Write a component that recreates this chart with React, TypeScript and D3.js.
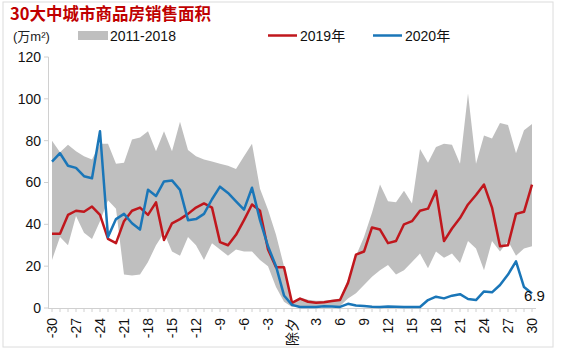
import React from "react";
import * as d3 from "d3";

const categories: string[] = [
  ...d3.range(-30, 0).map(String),
  "除夕",
  ...d3.range(1, 31).map(String),
];

const bandUpper: number[] = [
  80, 74.5, 78, 75, 72.5, 71, 78.5, 78.5, 69, 69.5, 80.5, 81.5, 84.5, 75, 84.5,
  75, 89, 75.5, 72.5, 71, 70, 69, 68, 66.5, 72.5, 78.5, 57, 47, 35, 20,
  3,
  5, 4, 3.5, 3.5, 4, 4.5, 13.5, 25, 34, 45.5, 59, 51, 50.5, 56, 50,
  76, 69.5, 77, 78.5, 78, 69, 102.5, 69, 82.5, 81, 88.5, 87.5, 74, 85, 88,
];

const bandLower: number[] = [
  23, 34, 30, 44, 36, 33, 41.5, 51.5, 47.5, 16, 15.5, 16, 22, 30, 36,
  27, 25, 34, 30, 23, 31, 28, 25, 28, 27, 27, 23, 20, 10, 3,
  0.5,
  1, 1, 1, 1, 1, 1, 4.5, 7, 11, 15, 18, 20.5, 16, 18, 22,
  26, 19, 27, 24, 26, 21.5, 32, 28.5, 18, 32, 27, 32, 25, 28.5, 29.5,
];

const series2019: number[] = [
  35.5, 35.5, 44.5, 46.5, 46, 48.5, 44.5, 33, 31, 41.5, 46.5, 48, 44.5, 50.5, 32.5,
  40.5, 42.5, 45, 48, 50, 48, 31.5, 30, 35, 42, 49.5, 46.5, 28, 19.5, 19.5,
  2.5,
  4.5, 3, 2.5, 2.8, 3.3, 3.8, 12, 25.5, 27, 38.5, 37.5, 31, 32, 40, 41.5,
  46.5, 47.5, 56, 32, 38, 43, 49.5, 54, 59, 48, 29.5, 30, 45, 46, 59,
];

const series2020: number[] = [
  70, 74, 68, 67, 63, 62, 84.5, 34, 42.5, 45, 40.5, 37.5, 56.5, 53.5, 60.5,
  61, 56.5, 42, 42.5, 45, 52, 58, 55, 51, 47, 57.5, 42, 29.5, 20, 6,
  1.5,
  0.5, 0.5, 0.5, 0.8, 0.7, 0.5, 2, 1.2, 1, 0.6, 0.5, 0.7, 0.6, 0.5, 0.5,
  0.5, 3.8, 5.4, 4.6, 5.9, 6.6, 4.3, 3.8, 7.9, 7.5, 11, 16, 22.3, 10, 6.9,
];

const yTicks: number[] = [0, 20, 40, 60, 80, 100, 120];
const xTickLabels: string[] = categories.filter((_, i) => i % 3 === 0);

const title = "30大中城市商品房销售面积";
const unitLabel = "(万m²)";
const legendBand = "2011-2018";
const legend2019 = "2019年";
const legend2020 = "2020年";
const lastLabel = "6.9";

const W = 563;
const H = 354;
const RED = "#c0171d";
const BLUE = "#1a76b8";
const GRAY = "#bfbfbf";
const AXIS = "#d0d0d0";
const FONT = "'Liberation Sans', Arial, 'Noto Sans CJK SC', sans-serif";

export default function App() {
  const x = d3.scaleBand<string>().domain(categories).range([48, 536]).padding(0);
  const cx = (i: number) => (x(categories[i]) as number) + x.bandwidth() / 2;
  const y = d3.scaleLinear().domain([0, 120]).range([308, 57]);

  const area = d3
    .area<number>()
    .x((_, i) => cx(i))
    .y0((_, i) => y(bandLower[i]))
    .y1((d) => y(d));
  const line = d3
    .line<number>()
    .x((_, i) => cx(i))
    .y((d) => y(d));

  return (
    <svg
      width={W}
      height={H}
      style={{ position: "absolute", left: 0, top: 0, background: "#fff" }}
      fontFamily={FONT}
    >
      <rect x={3} y={2} width={550} height={345} fill="#fff" stroke="#dcdcdc" strokeWidth={1} />

      <text x={10} y={20} fontSize={16.5} fontWeight="bold" fill="#c00000" fontFamily="'Noto Sans CJK SC', sans-serif">
        {title}
      </text>

      {/* legend */}
      <text x={13} y={41} fontSize={13} fill="#222">{unitLabel}</text>
      <rect x={78} y={31} width={30} height={9} fill={GRAY} />
      <text x={110} y={41} fontSize={14} fill="#111">{legendBand}</text>
      <line x1={268} x2={297} y1={35.5} y2={35.5} stroke={RED} strokeWidth={2.5} />
      <text x={300} y={41} fontSize={14} fill="#111">{legend2019}</text>
      <line x1={373} x2={402} y1={35.5} y2={35.5} stroke={BLUE} strokeWidth={2.5} />
      <text x={405} y={41} fontSize={14} fill="#111">{legend2020}</text>

      {/* band */}
      <path d={area(bandUpper) ?? ""} fill={GRAY} stroke="none" />

      {/* y axis */}
      <line x1={48.5} x2={48.5} y1={y(120)} y2={y(0)} stroke={AXIS} />
      {yTicks.map((t) => (
        <g key={t}>
          <line x1={44} x2={48.5} y1={y(t)} y2={y(t)} stroke={AXIS} />
          <text x={41} y={y(t)} dy="0.35em" textAnchor="end" fontSize={14} fill="#111">
            {t}
          </text>
        </g>
      ))}

      {/* x axis */}
      <line x1={48} x2={536} y1={y(0) + 0.5} y2={y(0) + 0.5} stroke={AXIS} />
      {categories.map((c, i) => (
        <line key={c} x1={cx(i)} x2={cx(i)} y1={y(0)} y2={y(0) + 4} stroke={AXIS} />
      ))}
      {xTickLabels.map((c) => {
        const px = (x(c) as number) + x.bandwidth() / 2;
        return (
          <text
            key={c}
            transform={`translate(${px},318) rotate(-90)`}
            textAnchor="end"
            dy="0.35em"
            fontSize={14}
            fill="#111"
          >
            {c}
          </text>
        );
      })}

      {/* lines */}
      <path d={line(series2019) ?? ""} fill="none" stroke={RED} strokeWidth={2.5} strokeLinejoin="round" />
      <path d={line(series2020) ?? ""} fill="none" stroke={BLUE} strokeWidth={2.5} strokeLinejoin="round" />

      <text x={524} y={301} fontSize={15} fill="#111">{lastLabel}</text>
    </svg>
  );
}
